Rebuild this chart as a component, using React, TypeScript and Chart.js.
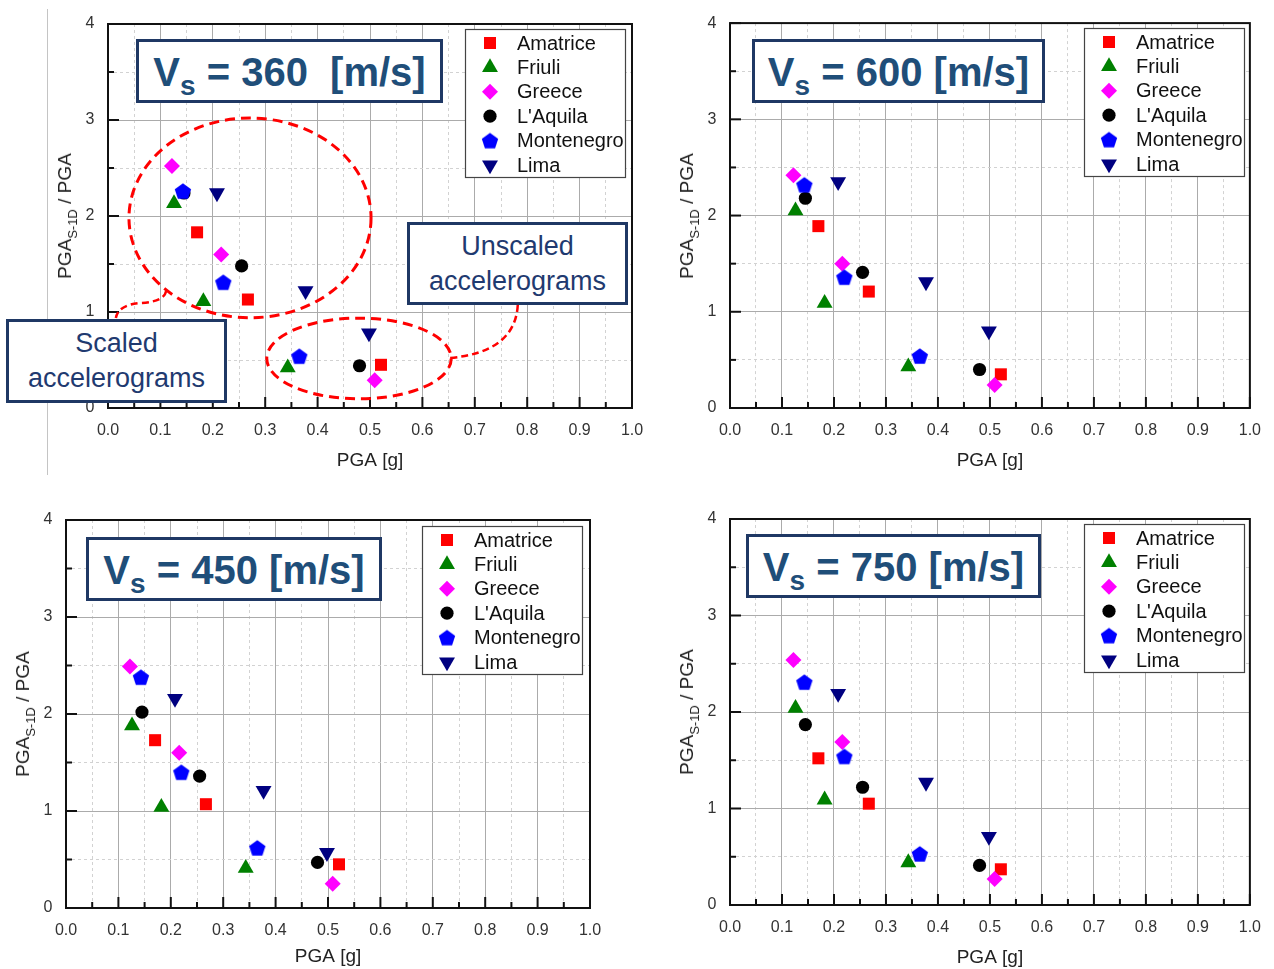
import React, { useEffect, useRef } from 'react';
import { Chart, registerables, PointElement } from 'chart.js';

Chart.register(...registerables);

const FONT = "'Liberation Sans', Arial, Helvetica, sans-serif";
Chart.defaults.font.family = FONT;
Chart.defaults.color = '#333';

// ---------------- data ----------------
const seriesNames = ['Amatrice', 'Friuli', 'Greece', "L'Aquila", 'Montenegro', 'Lima'];
const seriesColors = ['#ff0000', '#008000', '#ff00ff', '#000000', '#0000ff', '#000080'];

// PGA [g] of each accelerogram (same in every panel)
const pgaAmatrice = [0.17, 0.267, 0.521];
const pgaFriuli = [0.126, 0.182, 0.343];
const pgaGreece = [0.122, 0.216, 0.509];
const pgaAquila = [0.145, 0.255, 0.48];
const pgaMontenegro = [0.143, 0.22, 0.365];
const pgaLima = [0.208, 0.377, 0.498];
const pgaBySeries = [pgaAmatrice, pgaFriuli, pgaGreece, pgaAquila, pgaMontenegro, pgaLima];

// PGA_S-1D / PGA, one row per series (Amatrice, Friuli, Greece, L'Aquila, Montenegro, Lima)
const ratioVs360 = [
  [1.83, 1.13, 0.45],
  [2.13, 1.11, 0.42],
  [2.52, 1.6, 0.29],
  [2.24, 1.48, 0.44],
  [2.26, 1.31, 0.54],
  [2.24, 1.22, 0.78],
];
const ratioVs600 = [
  [1.89, 1.21, 0.35],
  [2.05, 1.09, 0.43],
  [2.42, 1.5, 0.24],
  [2.18, 1.41, 0.4],
  [2.32, 1.36, 0.54],
  [2.35, 1.31, 0.8],
];
const ratioVs450 = [
  [1.73, 1.07, 0.45],
  [1.88, 1.04, 0.41],
  [2.49, 1.6, 0.25],
  [2.02, 1.36, 0.47],
  [2.38, 1.4, 0.62],
  [2.16, 1.21, 0.57],
];
const ratioVs750 = [
  [1.52, 1.05, 0.37],
  [2.04, 1.09, 0.44],
  [2.54, 1.69, 0.27],
  [1.87, 1.22, 0.41],
  [2.31, 1.54, 0.53],
  [2.19, 1.27, 0.71],
];

const xTickLabels = ['0.0', '0.1', '0.2', '0.3', '0.4', '0.5', '0.6', '0.7', '0.8', '0.9', '1.0'];
const yTickLabels = ['0', '1', '2', '3', '4'];
const xTitle = 'PGA [g]';

// annotations of the Vs = 360 panel (data units)
const scaledEllipse = [0.271, 1.98, 0.231, 1.04]; // cx, cy, rx, ry
const unscaledEllipse = [0.479, 0.516, 0.176, 0.42];
const scaledLeader = [[0.111, 1.219], [0.107, 1.104], [0.061, 1.094], [0.019, 1.073], [0.015, 0.9375]];
const unscaledLeader = [[0.653, 0.521], [0.777, 0.583], [0.782, 1.073]];

// ---------------- markers ----------------
let pentagonCache: HTMLCanvasElement | null = null;
function pentagon(): HTMLCanvasElement {
  if (pentagonCache) return pentagonCache;
  const size = 20;
  const r = 8.6;
  const c = document.createElement('canvas');
  c.width = size;
  c.height = size;
  const g = c.getContext('2d')!;
  g.fillStyle = '#0000ff';
  g.beginPath();
  for (let i = 0; i < 5; i++) {
    const a = -Math.PI / 2 + (i * 2 * Math.PI) / 5;
    const px = size / 2 + r * Math.cos(a);
    const py = size / 2 + 0.8 + r * Math.sin(a);
    if (i === 0) g.moveTo(px, py);
    else g.lineTo(px, py);
  }
  g.closePath();
  g.fill();
  pentagonCache = c;
  return c;
}

function markerStyle(i: number): any {
  return ['rect', 'triangle', 'rectRot', 'circle', pentagon(), 'triangle'][i];
}
const markerRadius = [8.5, 9.2, 8, 6.6, 8.6, 9.2];
const markerRotation = [0, 0, 0, 0, 0, 180];

// ---------------- plugins ----------------
const framePlugin = {
  id: 'frameTicks',
  beforeDatasetsDraw(chart: any) {
    const { ctx, chartArea: a, scales } = chart;
    ctx.save();
    ctx.strokeStyle = '#111';
    ctx.lineWidth = 2;
    scales.x.ticks.forEach((t: any, i: number) => {
      const px = scales.x.getPixelForValue(t.value);
      const len = i % 2 === 0 ? 11 : 6;
      ctx.beginPath();
      ctx.moveTo(px, a.bottom);
      ctx.lineTo(px, a.bottom - len);
      ctx.stroke();
    });
    scales.y.ticks.forEach((t: any, i: number) => {
      const py = scales.y.getPixelForValue(t.value);
      const len = i % 2 === 0 ? 11 : 6;
      ctx.beginPath();
      ctx.moveTo(a.left, py);
      ctx.lineTo(a.left + len, py);
      ctx.stroke();
    });
    ctx.strokeRect(a.left, a.top, a.right - a.left, a.bottom - a.top);
    ctx.restore();
  },
};

const annotationPlugin = {
  id: 'ellipses',
  beforeDatasetsDraw(chart: any, _args: any, opts: any) {
    if (!opts || !opts.enabled) return;
    const { ctx, scales } = chart;
    const X = (v: number) => scales.x.getPixelForValue(v);
    const Y = (v: number) => scales.y.getPixelForValue(v);
    ctx.save();
    ctx.strokeStyle = '#ff0000';
    [scaledEllipse, unscaledEllipse].forEach((e) => {
      const cx = X(e[0]);
      const cy = Y(e[1]);
      const rx = X(e[0] + e[2]) - cx;
      const ry = cy - Y(e[1] + e[3]);
      ctx.lineWidth = 3;
      ctx.setLineDash([10, 6]);
      ctx.beginPath();
      ctx.ellipse(cx, cy, rx, ry, 0, 0, Math.PI * 2);
      ctx.stroke();
    });
    ctx.lineWidth = 2.5;
    ctx.setLineDash([7, 4]);
    const s = scaledLeader;
    ctx.beginPath();
    ctx.moveTo(X(s[0][0]), Y(s[0][1]));
    ctx.quadraticCurveTo(X(s[1][0]), Y(s[1][1]), X(s[2][0]), Y(s[2][1]));
    ctx.quadraticCurveTo(X(s[3][0]), Y(s[3][1]), X(s[4][0]), Y(s[4][1]));
    ctx.stroke();
    const u = unscaledLeader;
    ctx.beginPath();
    ctx.moveTo(X(u[0][0]), Y(u[0][1]));
    ctx.quadraticCurveTo(X(u[1][0]), Y(u[1][1]), X(u[2][0]), Y(u[2][1]));
    ctx.stroke();
    ctx.restore();
  },
};

const legendPlugin = {
  id: 'insetLegend',
  afterDraw(chart: any, _args: any, opts: any) {
    if (!opts || !opts.box) return;
    const { ctx } = chart;
    const { x, y, w, h } = opts.box;
    ctx.save();
    ctx.fillStyle = '#ffffff';
    ctx.fillRect(x, y, w, h);
    ctx.strokeStyle = '#444';
    ctx.lineWidth = 1.2;
    ctx.strokeRect(x + 0.5, y + 0.5, w, h);
    chart.data.datasets.forEach((ds: any, i: number) => {
      const cy = y + 14 + i * 24.4;
      const meta = chart.getDatasetMeta(i);
      const el = meta.data[0];
      const marker = new (PointElement as any)({ x: x + 25, y: cy, options: el.options });
      marker.draw(ctx, chart.chartArea);
      ctx.fillStyle = '#111';
      ctx.font = `20px ${FONT}`;
      ctx.textAlign = 'left';
      ctx.textBaseline = 'middle';
      ctx.fillText(ds.label, x + 52, cy + 1);
    });
    ctx.restore();
  },
};

// ---------------- panel ----------------
type Area = { l: number; t: number; r: number; b: number };
type PanelCfg = {
  vs: string;
  left: number;
  top: number;
  w: number;
  h: number;
  area: Area;
  titleY: number;
  ratios: number[][];
  legend: { x: number; y: number };
  vsBox: { x: number; y: number; w: number; h: number };
  annotate?: boolean;
};

const panels: PanelCfg[] = [
  { vs: '360  ', left: 0, top: 0, w: 662, h: 480, area: { l: 108, t: 24, r: 632, b: 408 }, titleY: 461, ratios: ratioVs360, legend: { x: 465, y: 29 }, vsBox: { x: 136, y: 39, w: 307, h: 64 }, annotate: true },
  { vs: '600 ', left: 640, top: 0, w: 634, h: 480, area: { l: 90, t: 23, r: 612, b: 408 }, titleY: 461, ratios: ratioVs600, legend: { x: 444, y: 28 }, vsBox: { x: 752, y: 39, w: 293, h: 64 } },
  { vs: '450 ', left: 0, top: 480, w: 640, h: 489, area: { l: 66, t: 40, r: 590, b: 428 }, titleY: 477, ratios: ratioVs450, legend: { x: 422, y: 46 }, vsBox: { x: 86, y: 537, w: 296, h: 64 } },
  { vs: '750 ', left: 640, top: 480, w: 634, h: 489, area: { l: 90, t: 39, r: 612, b: 425 }, titleY: 478, ratios: ratioVs750, legend: { x: 444, y: 44 }, vsBox: { x: 746, y: 534, w: 295, h: 64 } },
];

function Panel({ cfg }: { cfg: PanelCfg }) {
  const ref = useRef<HTMLCanvasElement>(null);
  useEffect(() => {
    const { area, w, h } = cfg;
    const datasets = seriesNames.map((name, i) => ({
      label: name,
      data: pgaBySeries[i].map((x, j) => ({ x, y: cfg.ratios[i][j] })),
      pointStyle: markerStyle(i),
      pointRadius: markerRadius[i],
      pointHoverRadius: markerRadius[i],
      pointRotation: markerRotation[i],
      backgroundColor: seriesColors[i],
      borderColor: seriesColors[i],
      pointBorderWidth: 0,
      order: seriesNames.length - i,
    }));
    const titlePad = Math.max(0, h - cfg.titleY - 11.4);
    const gridColor = (ctx: any) => (ctx.index % 2 === 0 ? '#ababab' : '#d2d2d2');
    const gridDash = (ctx: any) => (ctx.type === 'tick' && ctx.index % 2 === 1 ? [3, 3] : []);
    const chart = new Chart(ref.current!, {
      type: 'scatter',
      data: { datasets } as any,
      plugins: [framePlugin, annotationPlugin, legendPlugin] as any,
      options: {
        responsive: false,
        animation: false,
        events: [],
        layout: { padding: { left: 0, top: area.t, right: w - area.r, bottom: 0 } },
        plugins: {
          legend: { display: false },
          tooltip: { enabled: false },
          ellipses: { enabled: !!cfg.annotate },
          insetLegend: { box: { x: cfg.legend.x, y: cfg.legend.y, w: 160, h: 148 } },
        } as any,
        scales: {
          x: {
            type: 'linear',
            min: 0,
            max: 1,
            afterFit: (s: any) => {
              s.height = h - area.b;
            },
            ticks: {
              stepSize: 0.05,
              autoSkip: false,
              maxRotation: 0,
              padding: 13,
              color: '#333',
              font: { size: 16 },
              callback: (_v: any, i: number) => (i % 2 === 0 ? xTickLabels[i / 2] : ''),
            },
            grid: { drawTicks: false, color: gridColor, lineWidth: 1 },
            border: { display: false, dash: gridDash },
            title: { display: true, text: xTitle, color: '#222', font: { size: 19 }, padding: { top: 0, bottom: titlePad } },
          },
          y: {
            type: 'linear',
            min: 0,
            max: 4,
            afterFit: (s: any) => {
              s.width = area.l;
            },
            ticks: {
              stepSize: 0.5,
              autoSkip: false,
              padding: 13.5,
              color: '#333',
              font: { size: 16 },
              callback: (_v: any, i: number) => (i % 2 === 0 ? yTickLabels[i / 2] : ''),
            },
            grid: { drawTicks: false, color: gridColor, lineWidth: 1 },
            border: { display: false, dash: gridDash },
          },
        } as any,
      },
    });
    return () => chart.destroy();
  }, [cfg]);

  const { area } = cfg;
  const yTitleX = cfg.left + area.l - 42;
  const yTitleY = cfg.top + (area.t + area.b) / 2;
  return (
    <>
      <canvas
        ref={ref}
        width={cfg.w}
        height={cfg.h}
        style={{ position: 'absolute', left: cfg.left, top: cfg.top, width: cfg.w, height: cfg.h }}
      />
      <div
        style={{
          position: 'absolute',
          left: yTitleX,
          top: yTitleY,
          transform: 'translate(-50%, -50%) rotate(-90deg)',
          font: `19px ${FONT}`,
          color: '#222',
          whiteSpace: 'nowrap',
          lineHeight: '22px',
        }}
      >
        PGA<span style={{ fontSize: 13, position: 'relative', top: 6 }}>S-1D</span> / PGA
      </div>
      <div
        style={{
          position: 'absolute',
          left: cfg.vsBox.x,
          top: cfg.vsBox.y,
          width: cfg.vsBox.w,
          height: cfg.vsBox.h,
          boxSizing: 'border-box',
          border: '3px solid #1f3864',
          background: '#fff',
          display: 'flex',
          alignItems: 'center',
          justifyContent: 'center',
          paddingTop: 3,
          font: `bold 40px ${FONT}`,
          color: '#1f4e79',
          whiteSpace: 'pre',
        }}
      >
        <span>
          V<span style={{ fontSize: 28, position: 'relative', top: 9 }}>s</span>
          {` = ${cfg.vs}[m/s]`}
        </span>
      </div>
    </>
  );
}

function NoteBox({ x, y, w, h, lines }: { x: number; y: number; w: number; h: number; lines: string[] }) {
  return (
    <div
      style={{
        position: 'absolute',
        left: x,
        top: y,
        width: w,
        height: h,
        boxSizing: 'border-box',
        border: '3px solid #1f3864',
        background: '#fff',
        display: 'flex',
        flexDirection: 'column',
        alignItems: 'center',
        justifyContent: 'center',
        font: `27px ${FONT}`,
        color: '#1f3a70',
        lineHeight: '35px',
      }}
    >
      {lines.map((l) => (
        <div key={l}>{l}</div>
      ))}
    </div>
  );
}

export default function App() {
  return (
    <div style={{ position: 'absolute', left: 0, top: 0, width: 1274, height: 969, background: '#fff', overflow: 'hidden' }}>
      <div style={{ position: 'absolute', left: 47, top: 9, width: 1, height: 466, background: '#c4c4c4' }} />
      {panels.map((p) => (
        <Panel key={p.vs} cfg={p} />
      ))}
      <NoteBox x={6} y={319} w={221} h={84} lines={['Scaled', 'accelerograms']} />
      <NoteBox x={407} y={222} w={221} h={83} lines={['Unscaled', 'accelerograms']} />
    </div>
  );
}
